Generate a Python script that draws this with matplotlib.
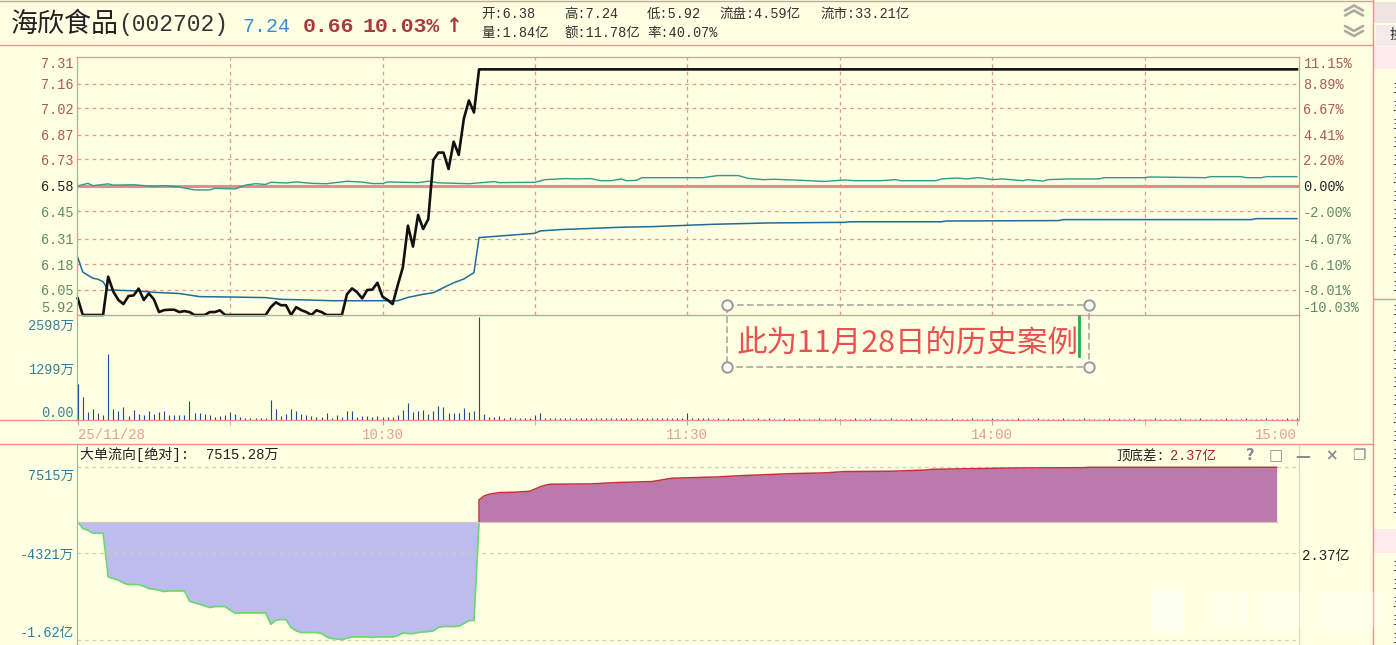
import numpy as np
import matplotlib
matplotlib.use('Agg')
import matplotlib.pyplot as plt
from matplotlib.patches import Rectangle
from matplotlib.transforms import ScaledTranslation

plt.rcParams['font.family'] = ['Liberation Mono', 'Noto Sans CJK SC', 'DejaVu Sans']

BG = '#feffe3'
PINK = '#e89494'
GRID = '#dc9a8e'
W, H = 1396, 645

# price panel
price = [6.005, 5.92, 5.92, 5.92, 5.92, 5.92, 6.116, 6.04, 5.997, 5.976,
         6.017, 6.02, 6.055, 5.997, 6.03, 6.0, 5.935, 5.945, 5.947, 5.947,
         5.935, 5.94, 5.935, 5.92, 5.92, 5.92, 5.935, 5.935, 5.944, 5.92,
         5.92, 5.92, 5.92, 5.92, 5.92, 5.92, 5.92, 5.92, 5.96, 5.985,
         5.97, 5.97, 5.92, 5.96, 5.945, 5.935, 5.92, 5.944, 5.935, 5.92,
         5.92, 5.92, 5.92, 6.026, 6.056, 6.036, 6.005, 6.048, 6.05, 6.085,
         6.014, 5.997, 5.976, 6.073, 6.164, 6.377, 6.27, 6.432, 6.36, 6.41,
         6.727, 6.769, 6.769, 6.676, 6.831, 6.756, 6.96, 7.064, 6.996, 7.24,
         7.24]
price_min = list(range(80)) + [240]

market_min = [0, 2, 3, 6, 7, 11, 15, 17, 20, 23, 26, 27, 31, 33, 35, 37, 38, 41, 43, 46, 49,
              53, 56, 58, 60, 61, 67, 69, 71, 77, 82, 83, 90, 92, 96, 98, 101, 103, 105, 107,
              108, 110, 111, 119, 123, 126, 130, 132, 135, 137, 141, 147, 151, 153, 158,
              161, 162, 169, 170, 173, 175, 177, 178, 180, 182, 186, 187, 190, 191, 195,
              201, 202, 210, 211, 222, 223, 229, 230, 233, 234, 240]
market = [6.58, 6.595, 6.582, 6.592, 6.585, 6.587, 6.578, 6.582, 6.575, 6.56, 6.56, 6.568,
          6.565, 6.585, 6.593, 6.589, 6.601, 6.597, 6.603, 6.595, 6.593, 6.607, 6.602,
          6.594, 6.594, 6.603, 6.599, 6.607, 6.598, 6.593, 6.605, 6.599, 6.601, 6.616,
          6.622, 6.62, 6.622, 6.61, 6.61, 6.62, 6.61, 6.612, 6.627, 6.627, 6.627, 6.639,
          6.639, 6.623, 6.616, 6.618, 6.614, 6.606, 6.614, 6.61, 6.61, 6.616, 6.61, 6.61,
          6.62, 6.625, 6.62, 6.627, 6.625, 6.616, 6.62, 6.61, 6.616, 6.608, 6.616, 6.62,
          6.62, 6.627, 6.627, 6.631, 6.627, 6.633, 6.633, 6.627, 6.627, 6.633, 6.633]

avg_min = [0, 1, 2, 3, 4, 5, 6, 12, 15, 20, 24, 30, 37, 40, 45, 50, 63, 65, 68, 70, 72, 74, 76,
           78, 79, 83, 90, 91, 95, 100, 107, 113, 118, 125, 136, 151, 152, 170, 171, 193, 194,
           231, 232, 240]
avg = [6.215, 6.14, 6.123, 6.108, 6.103, 6.09, 6.048, 6.043, 6.036, 6.03, 6.014, 6.012, 6.009,
       6.0, 5.997, 5.993, 5.993, 6.01, 6.026, 6.034, 6.06, 6.085, 6.104, 6.137, 6.316, 6.324,
       6.338, 6.35, 6.357, 6.362, 6.369, 6.372, 6.377, 6.384, 6.391, 6.394, 6.397, 6.397,
       6.401, 6.403, 6.408, 6.408, 6.413, 6.413]

price_ticks = [7.31, 7.16, 7.02, 6.87, 6.73, 6.58, 6.45, 6.31, 6.18, 6.05, 5.92]
pct_labels = ['11.15%', '8.89%', '6.67%', '4.41%', '2.20%', '0.00%',
              '-2.00%', '-4.07%', '-6.10%', '-8.01%', '-10.03%']

# volume panel (wan)
volume = [907, 588, 210, 277, 168, 126, 1655, 269, 235, 328, 100, 252, 151, 134, 227, 160, 200, 218, 126, 118,
          118, 126, 479, 168, 168, 151, 134, 84, 109, 126, 200, 151, 67, 59, 59, 59, 59, 59, 504, 269,
          109, 143, 269, 235, 151, 118, 100, 84, 67, 168, 59, 126, 67, 227, 235, 84, 100, 100, 84, 100,
          84, 84, 84, 126, 252, 437, 210, 235, 252, 151, 235, 353, 336, 168, 185, 185, 294, 210, 235, 2598,
          151, 84, 67, 109, 50, 67, 59, 50, 59, 50, 134, 185, 59, 50, 42, 59, 42, 50, 42, 42,
          59, 42, 50, 42, 42, 50, 59, 42, 42, 50, 42, 42, 50, 42, 50, 42, 42, 50, 42, 50,
          185, 42, 42, 50, 42, 34, 42, 34, 42, 34, 34, 42, 34, 34, 42, 34, 42, 34, 34, 42,
          34, 34, 42, 34, 34, 34, 42, 34, 34, 42, 34, 34, 34, 42, 34, 34, 42, 34, 34, 34,
          42, 34, 34, 34, 42, 34, 34, 42, 34, 34, 34, 34, 42, 34, 34, 34, 42, 34, 34, 34,
          42, 34, 34, 34, 34, 42, 34, 34, 34, 42, 34, 34, 34, 34, 42, 34, 34, 34, 42, 34,
          34, 34, 34, 42, 34, 34, 34, 34, 42, 34, 34, 34, 42, 34, 34, 34, 34, 42, 34, 34,
          34, 42, 34, 34, 34, 34, 42, 34, 34, 34, 42, 34, 34, 34, 42, 34, 34, 34, 42, 34, 42]
vol_ticks = [2598, 1299, 0]
vol_labels = ['2598万', '1299万', '0.00']

time_ticks = [0, 60, 120, 180, 240]
time_labels = ['25/11/28', '10:30', '11:30', '14:00', '15:00']

# big order flow panel (wan)
flow_down = [0, -917, -1147, -1560, -1560, -1560, -7569, -7798, -8027, -8394, -8624, -8624, -8624,
             -8853, -9174, -9266, -9403, -9587, -9495, -9495, -9495, -9495, -10917, -11146, -11330,
             -11559, -11789, -11651, -11651, -11651, -12156, -12568, -12522, -12522, -12522, -12522,
             -12522, -12522, -14082, -13532, -13440, -13440, -14541, -15000, -15229, -15229, -15229,
             -15229, -15366, -15825, -16055, -16100, -16192, -16009, -15825, -15825, -15825, -15825,
             -15917, -15825, -15825, -15825, -15825, -15642, -15275, -15366, -15366, -15229, -15137,
             -15091, -15000, -14495, -14403, -14403, -14403, -14357, -13990, -13577, -13577, 0]
flow_up_min = [79, 79, 80, 81, 83, 86, 89, 91, 92, 93, 101, 106, 113, 117, 126, 131, 136, 141,
               147, 151, 160, 167, 168, 184, 198, 199, 236]
flow_up = [0, 3027, 3578, 3807, 4036, 4082, 4220, 4816, 5046, 5183, 5229, 5413, 5550, 6009, 6192,
           6376, 6514, 6651, 6743, 6926, 6972, 7142, 7234, 7417, 7463, 7509, 7515]
flow_ticks = [7515, -4321, -16200]
flow_labels = ['7515万', '-4321万', '-1.62亿']


def pt(px):
    return px * 0.72


def panel(x0, y0, x1, y1):
    return fig.add_axes([x0 / W, 1 - y1 / H, (x1 - x0) / W, (y1 - y0) / H])


def to_axis(p):
    p = np.asarray(p, dtype=float)
    return np.where(p >= 6.58, (p - 6.58) / 0.73, (p - 6.58) / 0.66)


def from_axis(v):
    v = np.asarray(v, dtype=float)
    return np.where(v >= 0, v * 0.73 + 6.58, v * 0.66 + 6.58)


def nudge_down(label, px):
    label.set_transform(label.get_transform() + ScaledTranslation(0, -px / 100, fig.dpi_scale_trans))


fig = plt.figure(figsize=(W / 100, H / 100), dpi=100, facecolor=BG)

# window chrome, in pixels
bg = fig.add_axes([0, 0, 1, 1])
bg.set_xlim(0, W)
bg.set_ylim(H, 0)
bg.axis('off')
for y, x0, x1 in [(1, 0, 1373), (45, 0, 1373), (420, 0, 1299), (444, 0, 1373)]:
    bg.plot([x0, x1], [y, y], color=PINK, lw=1)
bg.plot([1373, 1373], [0, H], color=PINK, lw=1)
bg.plot([1374, W], [299, 299], color=PINK, lw=1)
bg.add_patch(Rectangle((1374, 2), 22, 21, color='#efe4e2', lw=0))
bg.add_patch(Rectangle((1376, 25), 20, 21, color='#f4eaea', lw=0))
bg.add_patch(Rectangle((1374, 47), 22, 22, color='#fdeaee', lw=0))
bg.add_patch(Rectangle((1374, 529), 22, 24, color='#fdeaee', lw=0))
bg.text(1390, 35, '换', fontsize=pt(14), va='center', color='#333333')
for y in list(range(88, 290, 18)) + list(range(310, 520, 18)) + list(range(566, 640, 18)):
    bg.text(1392, y, '主', fontsize=pt(14), va='center', color='#444444')

for yc, sign in [(10.5, 1), (31, -1)]:
    for dy in (-2.5, 2.5):
        bg.plot([1345, 1354, 1363], [yc + dy + 2.5 * sign, yc + dy - 2.5 * sign, yc + dy + 2.5 * sign],
                color='#a9aba0', lw=1.9, solid_capstyle='round')

# header
bg.text(11, 25, '海欣食品', fontsize=pt(27), va='center', color='#222222')
bg.text(118, 25, '(002702)', fontsize=pt(23), va='center', color='#333333')
bg.text(242, 27, '7.24', fontsize=pt(20), va='center', color='#3b8ad6')
bg.text(303, 27, '0.66', fontsize=pt(21.5), va='center', color='#a83a3e', weight='bold')
bg.text(363, 26, '10.03%', fontsize=pt(21.5), va='center', color='#a83a3e', weight='bold')
bg.text(453, 26, '↑', fontsize=pt(20), va='center', ha='center', color='#a83a3e', weight='bold',
        family='DejaVu Sans')
for x, y, s in [(481, 14, '开:6.38'), (564, 14, '高:7.24'), (647, 14, '低:5.92'),
                (719, 14, '流盘:4.59亿'), (820, 14, '流市:33.21亿'),
                (481, 33, '量:1.84亿'), (564, 33, '额:11.78亿'), (647, 33, '率:40.07%')]:
    bg.text(x, y, s, fontsize=pt(13.5), va='center', color='#333333')

# price panel
ax = panel(77, 57, 1299, 315)
ax.set_facecolor('none')
ax.set_xlim(-0.14, 240.4)
ax.set_yscale('function', functions=(to_axis, from_axis))
ax.set_ylim(5.92, 7.31)
for p in price_ticks[1:-1]:
    if p != 6.58:
        ax.axhline(p, color=GRID, lw=0.9, ls=(0, (3, 3)))
for m in range(30, 240, 30):
    ax.axvline(m, color=GRID, lw=0.9, ls=(0, (3, 3)))
ax.axhline(6.58, color='#e08f8c', lw=2.2, zorder=2)
ax.plot(market_min, market, color='#2f9a8c', lw=1.0, zorder=3)
ax.plot(avg_min, avg, color='#1f6c98', lw=1.1, zorder=3)
ax.plot(price_min, price, color='#111111', lw=1.9, zorder=4, clip_on=False)
ax.set_xticks([])
ax.set_yticks(price_ticks, [f'{p:.2f}' for p in price_ticks])
ax.tick_params(axis='y', length=0, pad=2.2, labelsize=pt(13.5))
ax_r = ax.twinx()
ax_r.set_yscale('function', functions=(to_axis, from_axis))
ax_r.set_ylim(5.92, 7.31)
ax_r.set_yticks(price_ticks, pct_labels)
ax_r.tick_params(axis='y', length=0, pad=3, labelsize=pt(13.5))
for axis in (ax, ax_r):
    labels = axis.get_yticklabels()
    for i, lab in enumerate(labels):
        lab.set_color('#a85a55' if i < 5 else '#222222' if i == 5 else '#5f8a62')
    labels[0].set_va('top')
    labels[-1].set_va('bottom')
    for s in axis.spines.values():
        s.set_color(PINK)

# volume panel
ax_v = panel(77, 315, 1299, 420)
ax_v.set_facecolor('none')
ax_v.set_xlim(-0.14, 240.4)
ax_v.set_ylim(0, 2648)
vol_x = np.arange(len(volume))
vol_colors = ['#9c1c1c' if m == 79 else '#1d4c8c' for m in vol_x]
ax_v.vlines(vol_x, 0, volume, colors=vol_colors, lw=0.8)
ax_v.set_yticks(vol_ticks, vol_labels, color='#3d7f96')
ax_v.tick_params(axis='y', length=0, pad=2.2, labelsize=pt(13.5))
ax_v.get_yticklabels()[0].set_va('top')
nudge_down(ax_v.get_yticklabels()[0], 2)
ax_v.get_yticklabels()[-1].set_va('bottom')
ax_v.set_xticks(time_ticks, time_labels, color='#e0a09a')
ax_v.set_xticks(range(0, 241, 30), minor=True)
ax_v.tick_params(axis='x', which='both', length=3.6, color=PINK, pad=2, labelsize=pt(14))
ax_v.get_xticklabels()[0].set_ha('left')
ax_v.get_xticklabels()[-1].set_ha('right')
for s in ax_v.spines.values():
    s.set_color(PINK)

# flow panel
ax_f = panel(77, 445, 1299, 645)
ax_f.set_facecolor('none')
ax_f.set_xlim(-0.14, 240.4)
ax_f.set_ylim(-16939, 10581)
for v in flow_ticks:
    ax_f.axhline(v, color='#d8cfae', lw=0.9, ls=(0, (3, 3)))
down_x = np.arange(len(flow_down))
ax_f.fill_between(down_x, flow_down, 0, color='#bcbcee', lw=0)
ax_f.plot(down_x, flow_down, color='#6ad86f', lw=1.2)
ax_f.fill_between(flow_up_min, flow_up, 0, color='#bc79ad', lw=0)
ax_f.plot(flow_up_min, flow_up, color='#c9303c', lw=1.1)
ax_f.plot([0, 236], [0, 0], color='#d8c8b0', lw=0.9)
ax_f.set_xticks([])
ax_f.set_yticks(flow_ticks, flow_labels, color='#2f7f9e')
ax_f.tick_params(axis='y', length=0, pad=2.2, labelsize=pt(13.5))
ax_f.get_yticklabels()[0].set_va('top')
nudge_down(ax_f.get_yticklabels()[0], 2)
ax_f.get_yticklabels()[-1].set_va('bottom')
for side, s in ax_f.spines.items():
    s.set_color(PINK if side == 'left' else '#e2d4b4')
    s.set_visible(side in ('left', 'right'))

# overlay text and controls
top = fig.add_axes([0, 0, 1, 1], facecolor='none')
top.set_xlim(0, W)
top.set_ylim(H, 0)
top.axis('off')
top.text(80, 455, '大单流向[绝对]:  7515.28万', fontsize=pt(14), va='center', color='#222222')
top.text(1116, 456, '顶底差:', fontsize=pt(13.5), va='center', color='#222222')
top.text(1170, 456, '2.37亿', fontsize=pt(13.5), va='center', color='#b02020')
top.text(1302, 556, '2.37亿', fontsize=pt(14), va='center', color='#222222')
for x, s in [(1250, '?'), (1276, '□'), (1303, '—'), (1331, '×'), (1359, '❐')]:
    top.text(x, 456, s, fontsize=pt(15), ha='center', va='center', color='#8c8c8c', weight='bold',
             family='DejaVu Sans')

top.plot([727, 1089, 1089, 727, 727], [305, 305, 367, 367, 305], color='#a8a8a0', lw=1.2,
         ls=(0, (4, 2)))
top.plot([727, 1089, 727, 1089], [305, 305, 367, 367], 'o', ms=7.5, mfc='#fbfbf2', mec='#9a9a9a', mew=1.4,
         ls='none')
top.text(737, 343, '此为11月28日的历史案例', fontsize=pt(30.5), va='center', color='#e9504f',
         family='Noto Sans CJK SC')
top.plot([1079, 1079], [316, 356], color='#1fb055', lw=2)

# blurred watermark, bottom right
for x0, x1, y0, y1, a in [(1153, 1183, 590, 630, 0.6), (1212, 1235, 592, 628, 0.15), (1238, 1247, 592, 628, 0.5),
                          (1263, 1303, 592, 628, 0.3), (1317, 1383, 592, 628, 0.25)]:
    top.add_patch(Rectangle((x0, y0), x1 - x0, y1 - y0, color='white', alpha=a, lw=0))

fig.savefig('out.png', dpi=100, facecolor=BG)
